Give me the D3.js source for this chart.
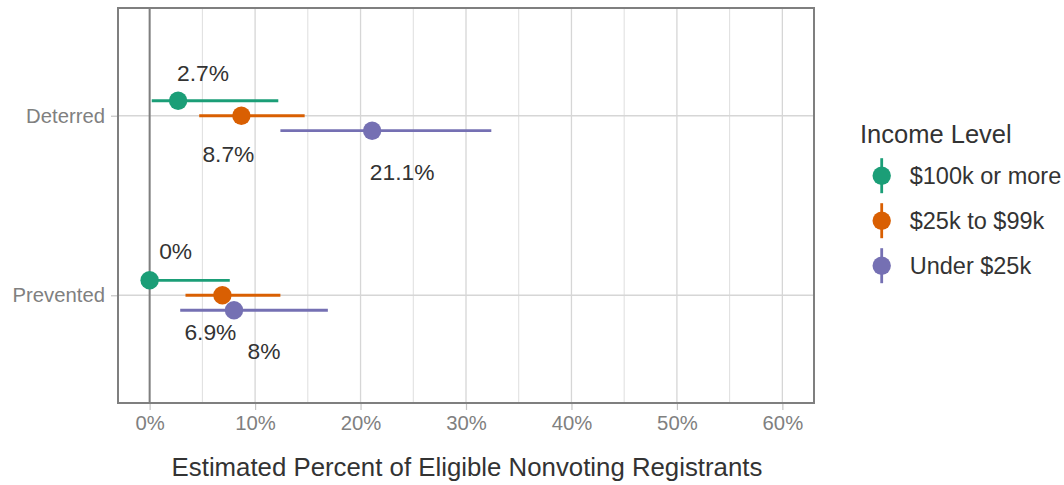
<!DOCTYPE html>
<html>
<head>
<meta charset="utf-8">
<script src="https://cdn.jsdelivr.net/npm/d3@7"></script>
<style>
  html, body { margin: 0; padding: 0; background: #fff; }
  svg { display: block; font-family: "Liberation Sans", Arial, sans-serif; }
</style>
</head>
<body>
<svg id="chart" width="1064" height="485"></svg>
<script>
// Outcome categories on the vertical axis
const outcomes = ["Deterred", "Prevented"];
// Income groups (legend order)
const incomeLevels = ["$100k or more", "$25k to $99k", "Under $25k"];
const incomeColors = ["#1b9e77", "#d95f02", "#7570b3"];

// Point estimates (percent), one row per outcome, one column per income level
const estimates = [
  [2.7, 8.7, 21.1],
  [0, 6.9, 8.0]
];
// Lower and upper interval bounds (percent)
const lowerBounds = [
  [0.2, 4.7, 12.4],
  [0, 3.4, 2.9]
];
const upperBounds = [
  [12.2, 14.7, 32.4],
  [7.6, 12.4, 16.9]
];

// X axis ticks
const xTicks = [0, 10, 20, 30, 40, 50, 60];
const xMinorTicks = [5, 15, 25, 35, 45, 55];

// Label placement (pixel offset of each value label from its point)
const labelOffsets = [
  [[25, -28], [-13, 38], [30, 41]],
  [[26, -29], [-12, 37], [30, 41]]
];

const svg = d3.select("#chart");
const panel = { left: 118, right: 814, top: 8, bottom: 403 };

const x = d3.scaleLinear().domain([-3, 63]).range([panel.left, panel.right]);
const y = d3.scalePoint().domain(outcomes).range([panel.top, panel.bottom]).padding(0.6);
const dodge = d3.scalePoint().domain(incomeLevels)
  .range([-y.step() * 0.0833, y.step() * 0.0833]);
const color = d3.scaleOrdinal().domain(incomeLevels).range(incomeColors);

const fmt = v => d3.format(".1~f")(v) + "%";

// Flattened records
const records = [];
outcomes.forEach((o, i) => {
  incomeLevels.forEach((g, j) => {
    records.push({
      outcome: o, group: g,
      est: estimates[i][j], lo: lowerBounds[i][j], hi: upperBounds[i][j],
      off: labelOffsets[i][j]
    });
  });
});

// Grid lines
const grid = svg.append("g");
grid.selectAll("line.minor").data(xMinorTicks).join("line")
  .attr("x1", d => x(d)).attr("x2", d => x(d))
  .attr("y1", panel.top).attr("y2", panel.bottom)
  .attr("stroke", "#dedede").attr("stroke-width", 1);
grid.selectAll("line.major").data(xTicks).join("line")
  .attr("x1", d => x(d)).attr("x2", d => x(d))
  .attr("y1", panel.top).attr("y2", panel.bottom)
  .attr("stroke", "#d6d6d6").attr("stroke-width", 1.3);
grid.selectAll("line.ymajor").data(outcomes).join("line")
  .attr("x1", panel.left).attr("x2", panel.right)
  .attr("y1", d => y(d)).attr("y2", d => y(d))
  .attr("stroke", "#d6d6d6").attr("stroke-width", 1.3);

// Reference line at zero
svg.append("line")
  .attr("x1", x(0)).attr("x2", x(0))
  .attr("y1", panel.top).attr("y2", panel.bottom)
  .attr("stroke", "#7f7f7f").attr("stroke-width", 2);

// Axes
const xAxis = svg.append("g")
  .attr("transform", `translate(0,${panel.bottom})`)
  .call(d3.axisBottom(x).tickValues(xTicks).tickFormat(d => d + "%").tickSize(7).tickPadding(6));
xAxis.select(".domain").remove();
xAxis.selectAll(".tick line").attr("stroke", "#c4c4c4").attr("stroke-width", 1.2);
xAxis.selectAll(".tick text").attr("fill", "#808080").attr("font-size", 20.3)
  .attr("font-family", "Liberation Sans, Arial, sans-serif");

const yAxis = svg.append("g")
  .attr("transform", `translate(${panel.left},0)`)
  .call(d3.axisLeft(y).tickSize(7).tickPadding(6));
yAxis.select(".domain").remove();
yAxis.selectAll(".tick line").attr("stroke", "#c4c4c4").attr("stroke-width", 1.2);
yAxis.selectAll(".tick text").attr("fill", "#808080").attr("font-size", 20.3)
  .attr("font-family", "Liberation Sans, Arial, sans-serif");

// Point ranges
const marks = svg.append("g");
records.forEach(r => {
  const cy = y(r.outcome) + dodge(r.group);
  marks.append("line")
    .attr("x1", x(r.lo)).attr("x2", x(r.hi))
    .attr("y1", cy).attr("y2", cy)
    .attr("stroke", color(r.group)).attr("stroke-width", 2.8);
  marks.append("circle")
    .attr("cx", x(r.est)).attr("cy", cy).attr("r", 9.2)
    .attr("fill", color(r.group));
});

// Value labels
svg.append("g").selectAll("text").data(records).join("text")
  .attr("x", d => x(d.est) + d.off[0])
  .attr("y", d => y(d.outcome) + dodge(d.group) + d.off[1])
  .attr("text-anchor", "middle").attr("dominant-baseline", "central")
  .attr("font-size", 22.8).attr("fill", "#333333")
  .text(d => fmt(d.est));

// Panel border
svg.append("rect")
  .attr("x", panel.left).attr("y", panel.top)
  .attr("width", panel.right - panel.left).attr("height", panel.bottom - panel.top)
  .attr("fill", "none").attr("stroke", "#7f7f7f").attr("stroke-width", 2);

// Axis title
svg.append("text")
  .attr("x", (panel.left + panel.right) / 2 + 1).attr("y", 476)
  .attr("text-anchor", "middle").attr("font-size", 25.8).attr("fill", "#333333")
  .text("Estimated Percent of Eligible Nonvoting Registrants");

// Legend
const legend = svg.append("g");
legend.append("text").attr("x", 860).attr("y", 143)
  .attr("font-size", 25.5).attr("fill", "#333333").text("Income Level");
const keys = legend.selectAll("g.key").data(incomeLevels).join("g")
  .attr("transform", (d, i) => `translate(881.7,${175.7 + i * 45})`);
keys.append("line").attr("y1", -17.5).attr("y2", 17.5)
  .attr("stroke", d => color(d)).attr("stroke-width", 2.8);
keys.append("circle").attr("r", 9.2).attr("fill", d => color(d));
keys.append("text").attr("x", 28).attr("dominant-baseline", "central")
  .attr("font-size", 23.5).attr("fill", "#333333").text(d => d);
</script>
</body>
</html>
